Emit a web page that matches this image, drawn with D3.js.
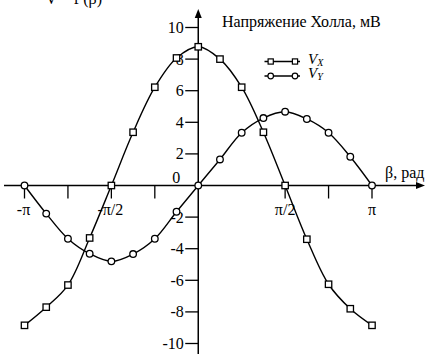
<!DOCTYPE html>
<html><head><meta charset="utf-8">
<script src="https://cdn.jsdelivr.net/npm/d3@7/dist/d3.min.js"></script>
<style>
html,body{margin:0;padding:0;background:#fff;}
svg text{font-family:"Liberation Serif","Times New Roman","DejaVu Serif",serif;}
</style></head>
<body>
<script>
// Data
const angleSteps = [-8,-7,-6,-5,-4,-3,-2,-1,0,1,2,3,4,5,6,7,8]; // multiples of π/8
const vx = [-8.85,-7.7,-6.3,-3.32,0,3.37,6.22,8.07,8.78,8.0,6.22,3.37,0,-3.4,-6.25,-7.8,-8.85];
const vy = [0,-1.78,-3.37,-4.32,-4.8,-4.34,-3.37,-1.66,0,1.65,3.34,4.27,4.67,4.21,3.34,1.82,0];
const yTicks = [-10,-8,-6,-4,-2,2,4,6,8,10];
const xTickSteps = [-4,-3,-2,-1,2,3,4]; // multiples of π/4
const xTickLabels = [{v:-Math.PI,t:"-π"},{v:-Math.PI/2,t:"-π/2"},{v:Math.PI/2,t:"π/2"},{v:Math.PI,t:"π"}];
const title = "Напряжение Холла, мВ";
const xTitle = "β, рад";
const caption = "V = f (β)";

const W=425,H=354;
const FF='"Liberation Serif","Times New Roman","DejaVu Serif",serif';
const FS=16;
const svg=d3.select("body").append("svg").attr("width",W).attr("height",H).attr("font-family",FF);
const x=d3.scaleLinear().domain([-Math.PI,Math.PI]).range([24.5,372]);
const y=d3.scaleLinear().domain([-10,10]).range([343.5,27.5]);
const x0=x(0), y0=y(0);
const txt=(sel)=>sel.append("text").attr("font-family",FF).attr("font-size",FS);

// caption fragment at the top edge (cut in the reference as well)
txt(svg).attr("x",102).attr("y",4).attr("text-anchor","end").text(caption);

// axes
svg.append("line").attr("x1",4).attr("x2",418).attr("y1",y0).attr("y2",y0).attr("stroke","#000").attr("stroke-width",1.5);
svg.append("path").attr("d",`M425,${y0} L416,${y0-3.5} L416,${y0+3.5} Z`).attr("fill","#000");
svg.append("line").attr("x1",x0).attr("x2",x0).attr("y1",16).attr("y2",H).attr("stroke","#000").attr("stroke-width",1.5);
svg.append("path").attr("d",`M${x0},9 L${x0-3.5},18 L${x0+3.5},18 Z`).attr("fill","#000");

// y ticks
yTicks.forEach(v=>{
  svg.append("line").attr("x1",x0-13).attr("x2",x0).attr("y1",y(v)).attr("y2",y(v)).attr("stroke","#000").attr("stroke-width",1.3);
  txt(svg).attr("x",x0-14.5).attr("y",y(v)+5.5).attr("text-anchor","end").text(v);
});
txt(svg).attr("x",x0-18).attr("y",y0-2.5).attr("text-anchor","end").text("0");

// x ticks
xTickSteps.forEach(k=>{
  const xv=x(k*Math.PI/4);
  svg.append("line").attr("x1",xv).attr("x2",xv).attr("y1",y0).attr("y2",y0+13).attr("stroke","#000").attr("stroke-width",1.3);
});
xTickLabels.forEach(d=>{
  txt(svg).attr("x",x(d.v)+(d.v<0?-1:0)).attr("y",y0+29).attr("text-anchor","middle").text(d.t);
});

txt(svg).attr("x",222).attr("y",27).text(title);
txt(svg).attr("x",385).attr("y",178).text(xTitle);

// series
const line=d3.line().curve(d3.curveCatmullRom.alpha(0.5));
const ptsX=angleSteps.map((k,i)=>[x(k*Math.PI/8),y(vx[i])]);
const ptsY=angleSteps.map((k,i)=>[x(k*Math.PI/8),y(vy[i])]);
svg.append("path").attr("d",line(ptsX)).attr("fill","none").attr("stroke","#000").attr("stroke-width",1.4);
svg.append("path").attr("d",line(ptsY)).attr("fill","none").attr("stroke","#000").attr("stroke-width",1.4);
svg.selectAll(".sq").data(ptsX).enter().append("rect").attr("x",d=>d[0]-3.2).attr("y",d=>d[1]-3.2).attr("width",6.4).attr("height",6.4).attr("fill","#fff").attr("stroke","#000").attr("stroke-width",1.3);
svg.selectAll(".ci").data(ptsY).enter().append("circle").attr("cx",d=>d[0]).attr("cy",d=>d[1]).attr("r",3.3).attr("fill","#fff").attr("stroke","#000").attr("stroke-width",1.3);

// legend
const lg=svg.append("g");
[[61.5,"sq","X"],[76,"ci","Y"]].forEach(([ly,type,sub])=>{
  lg.append("line").attr("x1",264.5).attr("x2",300).attr("y1",ly).attr("y2",ly).attr("stroke","#000").attr("stroke-width",1.3);
  [270.7,295].forEach(cx=>{
    if(type==="sq") lg.append("rect").attr("x",cx-2.6).attr("y",ly-2.6).attr("width",5.2).attr("height",5.2).attr("fill","#fff").attr("stroke","#000").attr("stroke-width",1.2);
    else lg.append("circle").attr("cx",cx).attr("cy",ly).attr("r",2.8).attr("fill","#fff").attr("stroke","#000").attr("stroke-width",1.2);
  });
  const t=lg.append("text").attr("font-family",FF).attr("font-size",15).attr("x",308).attr("y",ly+2).attr("font-style","italic");
  t.append("tspan").text("V");
  t.append("tspan").attr("font-size",10).attr("dy",2).text(sub);
});
</script>
</body></html>
